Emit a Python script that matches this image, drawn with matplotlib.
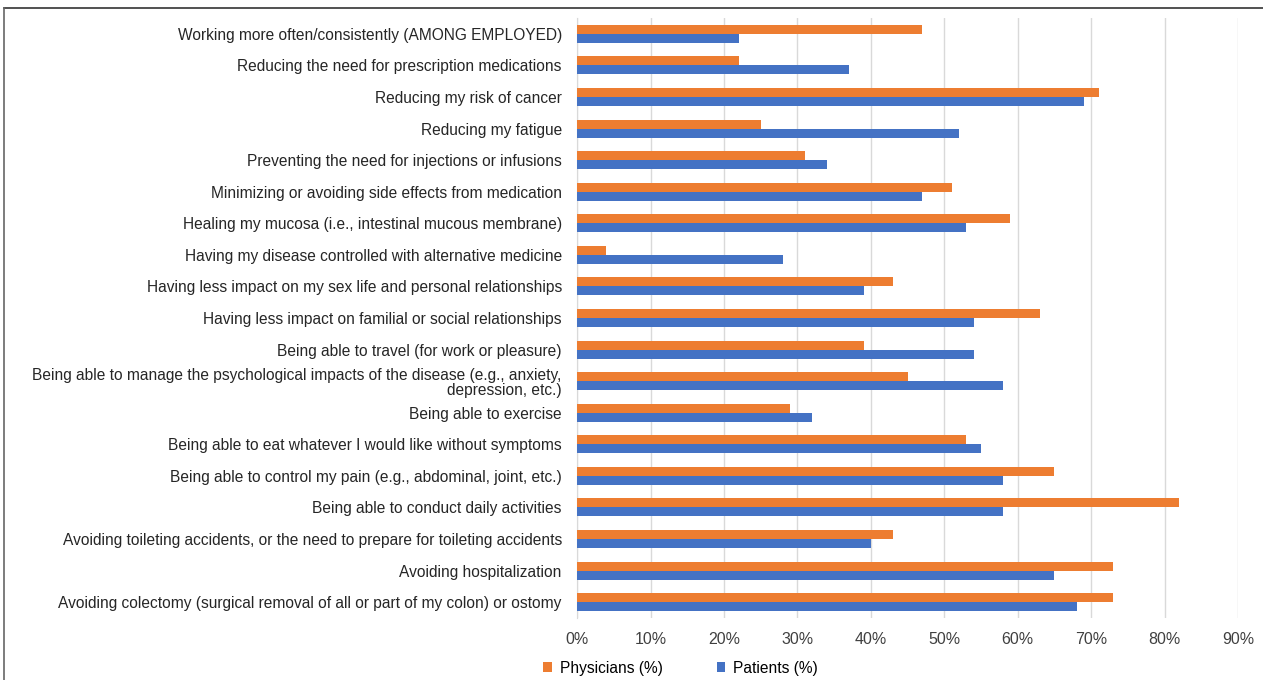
import matplotlib
matplotlib.use('Agg')
import matplotlib.pyplot as plt
from matplotlib.lines import Line2D
from matplotlib.ticker import PercentFormatter
import numpy as np

plt.rcParams['font.family'] = ['Liberation Sans', 'DejaVu Sans']

# categories top to bottom as shown
categories = [
    'Working more often/consistently (AMONG EMPLOYED)',
    'Reducing the need for prescription medications',
    'Reducing my risk of cancer',
    'Reducing my fatigue',
    'Preventing the need for injections or infusions',
    'Minimizing or avoiding side effects from medication',
    'Healing my mucosa (i.e., intestinal mucous membrane)',
    'Having my disease controlled with alternative medicine',
    'Having less impact on my sex life and personal relationships',
    'Having less impact on familial or social relationships',
    'Being able to travel (for work or pleasure)',
    'Being able to manage the psychological impacts of the disease (e.g., anxiety,\ndepression, etc.)',
    'Being able to exercise',
    'Being able to eat whatever I would like without symptoms',
    'Being able to control my pain (e.g., abdominal, joint, etc.)',
    'Being able to conduct daily activities',
    'Avoiding toileting accidents, or the need to prepare for toileting accidents',
    'Avoiding hospitalization',
    'Avoiding colectomy (surgical removal of all or part of my colon) or ostomy',
]
physicians = [47, 22, 71, 25, 31, 51, 59, 4, 43, 63, 39, 45, 29, 53, 65, 82, 43, 73, 73]
patients = [22, 37, 69, 52, 34, 47, 53, 28, 39, 54, 54, 58, 32, 55, 58, 58, 40, 65, 68]

orange = '#ED7D31'
blue = '#4472C4'

fig = plt.figure(figsize=(12.63, 6.8), dpi=100)
ax = fig.add_axes([0.4569, 1 - 618 / 680, 0.5234, 600 / 680])

y = np.arange(len(categories))
h = 0.285
ax.barh(y - h / 2, physicians, height=h, color=orange, label='Physicians (%)', zorder=3)
ax.barh(y + h / 2, patients, height=h, color=blue, label='Patients (%)', zorder=3)

ax.set_ylim(len(categories) - 0.5, -0.5)
ax.set_xlim(0, 90)
ax.set_xticks(np.arange(0, 91, 10))
ax.xaxis.set_major_formatter(PercentFormatter(decimals=0))
ax.set_yticks(y)
ax.set_yticklabels(categories, fontsize=11.2, color='#262626', linespacing=1.0)
ax.tick_params(axis='x', labelsize=11.5, labelcolor='#404040', length=0, pad=10)
ax.tick_params(axis='y', length=0, pad=11)

ax.grid(axis='x', color='#d9d9d9', linewidth=1, zorder=0)
for s in ['top', 'right', 'bottom']:
    ax.spines[s].set_visible(False)
ax.spines['left'].set_color('#d9d9d9')

ax.legend(loc='upper left', bbox_to_anchor=(0.419, 0.049), ncol=2, frameon=False,
          fontsize=11.2, handlelength=0.55, handleheight=0.55, handletextpad=0.5,
          columnspacing=3.5, bbox_transform=fig.transFigure)

# outer frame lines (top and left only visible)
fig.add_artist(Line2D([4 / 1263, 1], [1 - 8 / 680, 1 - 8 / 680], color='#333333', lw=1.2))
fig.add_artist(Line2D([4 / 1263, 4 / 1263], [0, 1 - 8 / 680], color='#666666', lw=1.2))

fig.savefig('out.png', dpi=100)
plt.close(fig)
